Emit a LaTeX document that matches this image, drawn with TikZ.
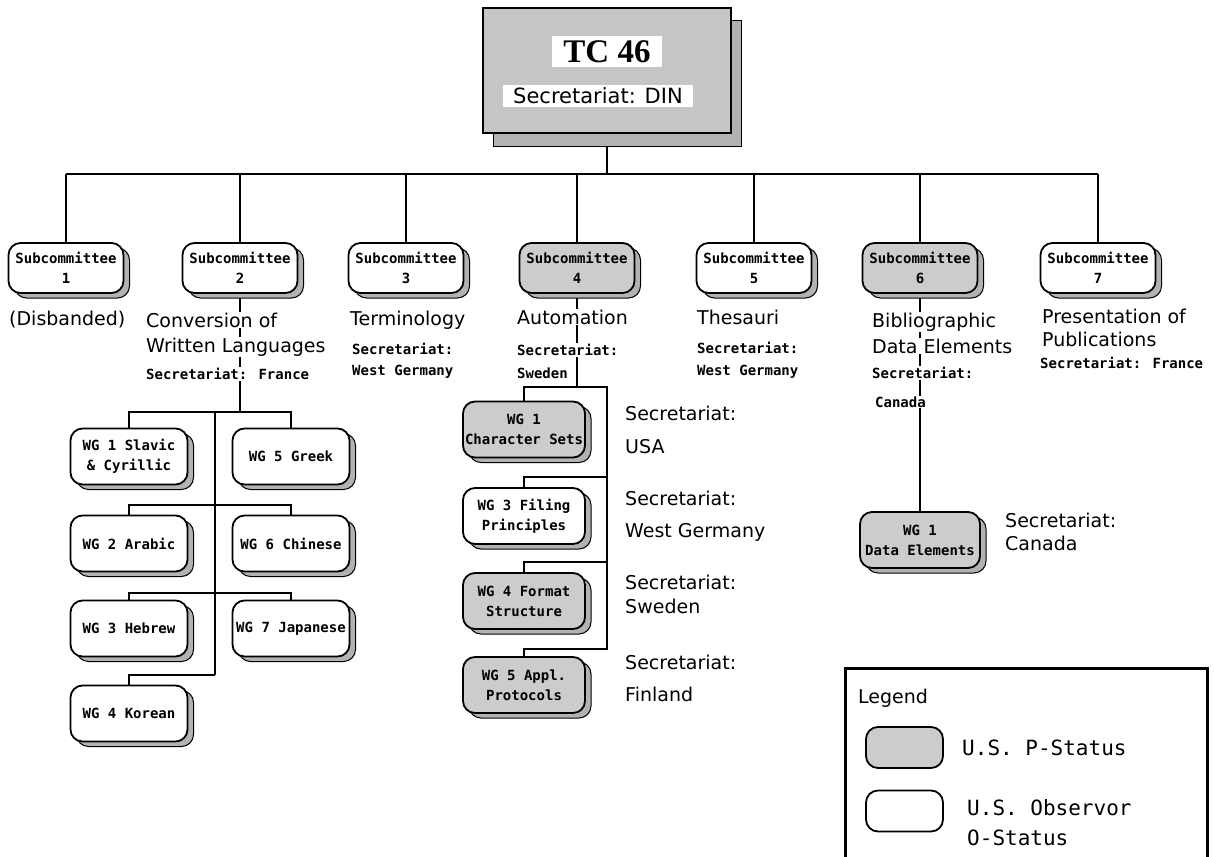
\documentclass[tikz,border=0pt]{standalone}
\usepackage{fontspec}
\usetikzlibrary{shadows,backgrounds}
\newfontfamily\lblfont{DejaVu Sans}
\newfontfamily\monofont{DejaVu Sans Mono}
\newfontfamily\tcfont{Liberation Serif}
\tikzset{
  conn/.style={line width=1.8pt},
  boxbase/.style={draw, line width=1.8pt, rounded corners=12pt, align=center, inner sep=1pt,
    font=\monofont\bfseries\fontsize{14}{20}\selectfont,
    copy shadow={shadow xshift=6pt, shadow yshift=-5pt, fill=gray!60, draw=black, line width=1pt}},
  pstat/.style={fill=gray!40},
  ostat/.style={fill=white},
  scbox/.style={boxbase, minimum width=115pt, minimum height=50pt},
  wgbox/.style={boxbase, minimum width=117pt, minimum height=56pt},
  wgboxb/.style={boxbase, minimum width=122pt, minimum height=56pt},
  bigtxt/.style={anchor=west, fill=white, inner sep=1pt, font=\lblfont\fontsize{19}{22}\selectfont},
  smalltxt/.style={anchor=west, fill=white, inner sep=1pt, font=\monofont\bfseries\fontsize{14}{16}\selectfont},
  legtxt/.style={anchor=west, inner sep=1pt, font=\monofont\fontsize{21}{24}\selectfont},
  legbox/.style={draw, line width=1.8pt, rounded corners=12pt, minimum width=77pt, minimum height=41pt},
}
\begin{document}
\begin{tikzpicture}[x=1pt,y=-1pt]
\useasboundingbox (0,0) rectangle (1214,856);

% TC 46
\node[draw, line width=1.8pt, fill=gray!45, minimum width=248pt, minimum height=125pt,
  copy shadow={shadow xshift=10pt, shadow yshift=-13pt, fill=gray!60, draw=black, line width=1pt}] (tc) at (607,70.5) {};
\node[fill=white, inner sep=0pt, minimum width=110pt, minimum height=31pt,
  font=\tcfont\bfseries\fontsize{33}{33}\selectfont] (tctitle) at (607,52) {TC 46};
\node[fill=white, inner sep=0pt, minimum width=190pt, minimum height=22pt,
  font=\lblfont\fontsize{21}{22}\selectfont] (tcsec) at (598,96) {Secretariat: DIN};

% Subcommittees
\node[scbox, ostat] (sc1) at (66,268) {Subcommittee\\1};
\node[scbox, ostat] (sc2) at (240,268) {Subcommittee\\2};
\node[scbox, ostat] (sc3) at (406,268) {Subcommittee\\3};
\node[scbox, pstat] (sc4) at (577,268) {Subcommittee\\4};
\node[scbox, ostat] (sc5) at (754,268) {Subcommittee\\5};
\node[scbox, pstat] (sc6) at (920,268) {Subcommittee\\6};
\node[scbox, ostat] (sc7) at (1098,268) {Subcommittee\\7};

% Subcommittee labels
\node[bigtxt] (sc1a) at (8,320) {(Disbanded)};
\node[bigtxt] (sc2a) at (145,320) {Conversion of};
\node[bigtxt] (sc2b) at (145,347) {Written Languages};
\node[smalltxt] (sc2c) at (145,374) {Secretariat: France};
\node[bigtxt] (sc3a) at (349,320) {Terminology};
\node[smalltxt] (sc3b) at (351,349) {Secretariat:};
\node[smalltxt] (sc3c) at (351,372) {West Germany};
\node[bigtxt] (sc4a) at (516,317) {Automation};
\node[smalltxt] (sc4b) at (516,350) {Secretariat:};
\node[smalltxt] (sc4c) at (516,373) {Sweden};
\node[bigtxt] (sc5a) at (696,317) {Thesauri};
\node[smalltxt] (sc5b) at (696,348) {Secretariat:};
\node[smalltxt] (sc5c) at (696,372) {West Germany};
\node[bigtxt] (sc6a) at (871,322) {Bibliographic};
\node[bigtxt] (sc6b) at (871,346) {Data Elements};
\node[smalltxt] (sc6c) at (871,373) {Secretariat:};
\node[smalltxt] (sc6d) at (874,402) {Canada};
\node[bigtxt] (sc7a) at (1041,316) {Presentation of};
\node[bigtxt] (sc7b) at (1041,339) {Publications};
\node[smalltxt] (sc7c) at (1039,363) {Secretariat: France};

% SC2 working groups
\node[wgbox, ostat] (wg21) at (129,456.5) {WG 1 Slavic\\\& Cyrillic};
\node[wgbox, ostat] (wg25) at (291,456.5) {WG 5 Greek};
\node[wgbox, ostat] (wg22) at (129,543.5) {WG 2 Arabic};
\node[wgbox, ostat] (wg26) at (291,543.5) {WG 6 Chinese};
\node[wgbox, ostat] (wg23) at (129,628.5) {WG 3 Hebrew};
\node[wgbox, ostat] (wg27) at (291,628.5) {WG 7 Japanese};
\node[wgbox, ostat] (wg24) at (129,713.5) {WG 4 Korean};

% SC4 working groups
\node[wgboxb, pstat] (wg41) at (524,429.5) {WG 1\\Character Sets};
\node[wgboxb, ostat] (wg43) at (524,516) {WG 3 Filing\\Principles};
\node[wgboxb, pstat] (wg44) at (524,601) {WG 4 Format\\Structure};
\node[wgboxb, pstat] (wg45) at (524,685) {WG 5 Appl.\\Protocols};
\node[bigtxt] (s41a) at (624,413) {Secretariat:};
\node[bigtxt] (s41b) at (624,447) {USA};
\node[bigtxt] (s43a) at (624,498) {Secretariat:};
\node[bigtxt] (s43b) at (624,532) {West Germany};
\node[bigtxt] (s44a) at (624,582) {Secretariat:};
\node[bigtxt] (s44b) at (624,606) {Sweden};
\node[bigtxt] (s45a) at (624,662) {Secretariat:};
\node[bigtxt] (s45b) at (624,694) {Finland};

% SC6 working group
\node[wgbox, pstat, minimum width=120pt] (wg61) at (920,540) {WG 1\\Data Elements};
\node[bigtxt] (s61a) at (1004,520) {Secretariat:};
\node[bigtxt] (s61b) at (1004,543) {Canada};

% Legend
\coordinate (legBL) at (845,860);
\coordinate (legTR) at (1207,668);
\coordinate (legBR) at (1207,860);
\draw[line width=3pt] (legBL) |- (legTR) -- (legBR);
\node[anchor=west, inner sep=1pt, font=\lblfont\fontsize{19}{22}\selectfont] (legt) at (857,698) {Legend};
\node[legbox, pstat] (legp) at (904.5,747.5) {};
\node[legtxt] (legpt) at (961,748) {U.S. P-Status};
\node[legbox, ostat] (lego) at (904.5,811) {};
\node[legtxt] (legot1) at (966,808) {U.S. Observor};
\node[legtxt] (legot2) at (966,838) {O-Status};

% Connectors
\begin{scope}[on background layer]
  \coordinate (barL) at (66,174);
  \coordinate (barR) at (1098,174);
  \draw[conn] (barL) -- (barR);
  \draw[conn] (tc.south) -- (tc.south |- barL);
  \foreach \s in {sc1,sc2,sc3,sc4,sc5,sc6,sc7}
    \draw[conn] (\s.north) -- (\s.north |- barL);
  % SC2 tree
  \coordinate (j2) at (240,412);
  \coordinate (t2a) at (215,412);
  \coordinate (t2b) at (215,675);
  \coordinate (r22) at (215,505);
  \coordinate (r23) at (215,593);
  \draw[conn] (sc2.south) -- (j2);
  \draw[conn] (wg21.north) |- (j2) -| (wg25.north);
  \draw[conn] (t2a) -- (t2b);
  \draw[conn] (wg22.north) |- (r22) -| (wg26.north);
  \draw[conn] (wg23.north) |- (r23) -| (wg27.north);
  \draw[conn] (wg24.north) |- (t2b);
  % SC4 tree
  \coordinate (j4) at (577,387);
  \coordinate (t4a) at (607,387);
  \coordinate (t4b) at (607,649);
  \coordinate (r43) at (607,477);
  \coordinate (r44) at (607,562);
  \draw[conn] (sc4.south) -- (j4);
  \draw[conn] (wg41.north) |- (t4a) -- (t4b) -| (wg45.north);
  \draw[conn] (r43) -| (wg43.north);
  \draw[conn] (r44) -| (wg44.north);
  % SC6
  \draw[conn] (sc6.south) -- (wg61.north);
\end{scope}
\end{tikzpicture}
\end{document}
